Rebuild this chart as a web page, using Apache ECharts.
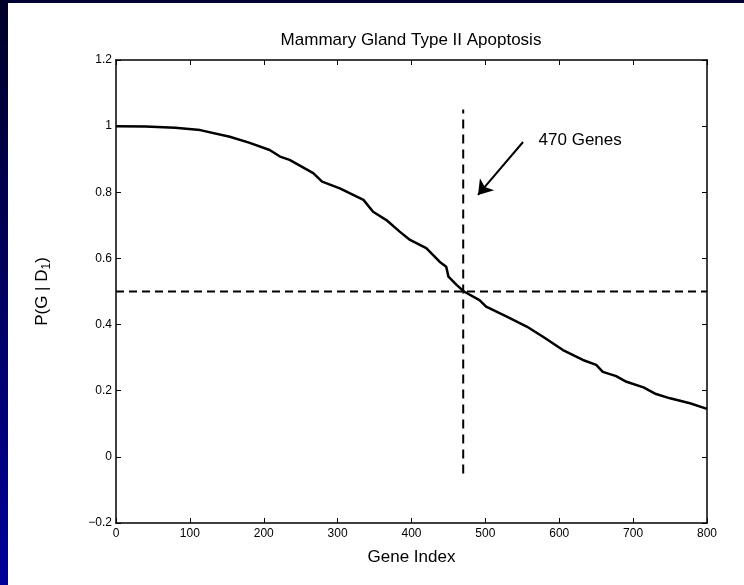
<!DOCTYPE html>
<html>
<head>
<meta charset="utf-8">
<script src="https://cdn.jsdelivr.net/npm/echarts@6/dist/echarts.min.js"></script>
<style>
  html, body { margin: 0; padding: 0; background: #fff; }
  #chart { width: 744px; height: 585px; }
</style>
</head>
<body>
<div id="chart"></div>
<script>
// curve
const geneIdx = [0, 40, 80, 114, 154, 180, 208, 222, 235, 267, 279, 303, 335, 348, 366, 384, 398, 420, 438, 447, 450, 461, 471, 492, 501, 529, 556, 578, 605, 632, 650, 659, 677, 691, 714, 731, 750, 777, 800];
const prob = [1.0, 0.999, 0.995, 0.988, 0.968, 0.95, 0.928, 0.908, 0.898, 0.858, 0.832, 0.812, 0.777, 0.741, 0.716, 0.681, 0.656, 0.631, 0.590, 0.575, 0.545, 0.520, 0.500, 0.474, 0.454, 0.424, 0.394, 0.363, 0.323, 0.293, 0.278, 0.257, 0.244, 0.227, 0.210, 0.190, 0.177, 0.162, 0.145];

// cut-off lines
const probCut = 0.5;
const probCutRange = [0, 800];
const geneCut = 470;
const geneCutRange = [-0.05, 1.05];

// annotation
const noteText = '470 Genes';
const notePos = [572, 0.958];
const arrowFrom = [551, 0.952];
const arrowTo = [490, 0.792];

const xTicks = [0, 800, 100];
const yTicks = [-0.2, 1.2, 0.2];

const font = 'Liberation Sans, Arial, Helvetica, sans-serif';

const fmtY = v => {
  const r = Math.round(v * 10) / 10;
  return r < 0 ? '\u2212' + Math.abs(r) : String(r);
};

const chart = echarts.init(document.getElementById('chart'));

const axisCommon = {
  axisLine: { show: true, onZero: false, lineStyle: { color: '#000', width: 1.5 } },
  axisTick: { show: true, inside: true, length: 5, lineStyle: { color: '#000', width: 1 } },
  splitLine: { show: false }
};

chart.setOption({
  animation: false,
  backgroundColor: '#fff',
  textStyle: { fontFamily: font },
  graphic: [
    {
      type: 'rect', left: 0, top: 0, z: -10,
      shape: { width: 744, height: 3 },
      style: { fill: '#000033' }
    },
    {
      type: 'rect', left: 0, top: 0, z: -10,
      shape: { width: 8, height: 585 },
      style: {
        fill: new echarts.graphic.LinearGradient(0, 0, 0, 1, [
          { offset: 0, color: '#000028' },
          { offset: 1, color: '#00009a' }
        ])
      }
    }
  ],
  title: {
    text: 'Mammary Gland Type II Apoptosis',
    left: 411,
    top: 32,
    textAlign: 'center',
    padding: 0,
    textStyle: { fontFamily: font, fontSize: 17, fontWeight: 'normal', color: '#000' }
  },
  grid: { left: 116, right: 37, top: 60, bottom: 62 },
  xAxis: [
    Object.assign({}, axisCommon, {
      type: 'value', position: 'bottom',
      min: xTicks[0], max: xTicks[1], interval: xTicks[2],
      axisLabel: { color: '#000', fontSize: 12, fontFamily: font, margin: 5 },
      name: 'Gene Index', nameLocation: 'middle', nameGap: 26,
      nameTextStyle: { color: '#000', fontSize: 17, fontFamily: font }
    }),
    Object.assign({}, axisCommon, {
      type: 'value', position: 'top',
      min: xTicks[0], max: xTicks[1], interval: xTicks[2],
      axisLabel: { show: false }
    })
  ],
  yAxis: [
    Object.assign({}, axisCommon, {
      type: 'value', position: 'left',
      min: yTicks[0], max: yTicks[1], interval: yTicks[2],
      axisLabel: { color: '#000', fontSize: 12, fontFamily: font, margin: 4, formatter: fmtY },
      name: '{a|P(G | D}{s|1}{a|)}', nameLocation: 'middle', nameRotate: 90, nameGap: 63,
      nameTextStyle: {
        color: '#000', fontFamily: font,
        rich: {
          a: { fontSize: 17, fontFamily: font, color: '#000', lineHeight: 22 },
          s: { fontSize: 12, fontFamily: font, color: '#000', lineHeight: 12, verticalAlign: 'bottom', padding: [6, 0, 0, 0] }
        }
      }
    }),
    Object.assign({}, axisCommon, {
      type: 'value', position: 'right',
      min: yTicks[0], max: yTicks[1], interval: yTicks[2],
      axisLabel: { show: false }
    })
  ],
  series: [
    {
      type: 'line',
      data: geneIdx.map((g, i) => [g, prob[i]]),
      showSymbol: false,
      lineStyle: { color: '#000', width: 2.5 },
      z: 5
    },
    {
      type: 'line',
      data: probCutRange.map(g => [g, probCut]),
      showSymbol: false,
      lineStyle: { color: '#000', width: 2, type: [8, 5] }
    },
    {
      type: 'line',
      data: geneCutRange.map(p => [geneCut, p]),
      showSymbol: false,
      lineStyle: { color: '#000', width: 2, type: [9, 6] }
    },
    {
      type: 'scatter',
      data: [notePos],
      symbolSize: 0,
      itemStyle: { opacity: 1 },
      label: {
        show: true, position: 'right', distance: 0,
        formatter: noteText, color: '#000', fontSize: 17, fontFamily: font
      },
      markLine: {
        silent: true,
        symbol: ['none', 'arrow'],
        symbolSize: 14,
        label: { show: false },
        lineStyle: { color: '#000', width: 2, type: 'solid', opacity: 1 },
        data: [[{ coord: arrowFrom }, { coord: arrowTo }]]
      }
    }
  ]
});
</script>
</body>
</html>
